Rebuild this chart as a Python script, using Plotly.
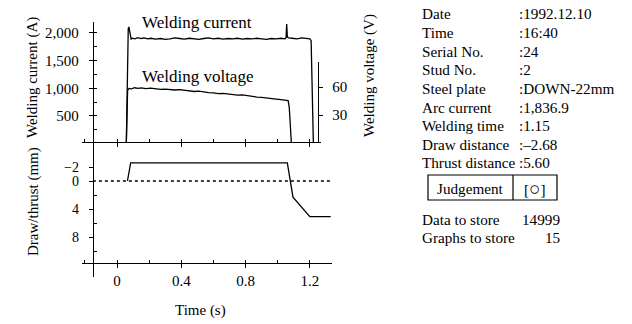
import plotly.graph_objects as go

W, H = 632, 324
def px(x): return x / W
def py(y): return 1 - y / H

# ---------------- data ----------------
cur_t = [0.058, 0.062, 0.066, 0.070, 0.074, 0.078, 0.082, 0.088, 0.095, 0.11, 0.13, 0.15, 0.17, 0.19,
         0.21, 0.24, 0.27, 0.30, 0.33, 0.36, 0.39, 0.42, 0.45, 0.48, 0.51, 0.54, 0.57, 0.60,
         0.63, 0.66, 0.69, 0.72, 0.75, 0.78, 0.81, 0.84, 0.87, 0.90, 0.93, 0.96, 0.99, 1.02,
         1.045, 1.052, 1.056, 1.060, 1.068, 1.09, 1.12, 1.15, 1.18, 1.200, 1.208, 1.222]
cur_a = [0, 900, 1950, 2080, 2110, 2060, 1950, 1890, 1905, 1895, 1915, 1900, 1910, 1895,
         1905, 1890, 1900, 1885, 1895, 1910, 1900, 1890, 1905, 1895, 1885, 1900, 1910, 1895,
         1905, 1890, 1900, 1895, 1905, 1890, 1900, 1895, 1905, 1895, 1885, 1900, 1895, 1905,
         1895, 1915, 2160, 1930, 1910, 1905, 1895, 1910, 1900, 1895, 1860, 0]

vol_t = [0.058, 0.062, 0.066, 0.075, 0.09, 0.11, 0.13, 0.15, 0.18, 0.21, 0.24, 0.27, 0.30,
         0.33, 0.36, 0.39, 0.42, 0.45, 0.48, 0.51, 0.54, 0.57, 0.60, 0.63, 0.66, 0.69,
         0.72, 0.75, 0.78, 0.81, 0.84, 0.87, 0.90, 0.93, 0.96, 0.99, 1.02, 1.045, 1.065,
         1.072, 1.085]
vol_v = [0, 30, 56.5, 58.5, 58.0, 59.2, 58.6, 59.0, 58.3, 58.8, 58.0, 57.5, 57.8,
         57.0, 56.8, 57.2, 56.3, 56.0, 55.2, 55.6, 54.6, 54.0, 53.8, 52.8, 53.2, 52.5,
         51.8, 51.2, 51.5, 50.5, 49.8, 49.2, 48.8, 48.0, 47.6, 47.0, 46.4, 46.0, 45.5,
         38, 0]

dt_t = [0.065, 0.085, 1.060, 1.080, 1.095, 1.200, 1.330]
dt_mm = [0, -2.6, -2.6, 0, 2.3, 5.1, 5.1]

ref_t = [-0.15, 1.33]
ref_mm = [0, 0]

cur_ticks = [500, 1000, 1500, 2000]
cur_labels = ["500", "1,000", "1,500", "2,000"]
vol_ticks = [30, 60]
vol_labels = ["30", "60"]
dt_ticks = [-2, 0, 4, 8]
dt_labels = ["\u22122", "0", "4", "8"]
time_ticks = [0, 0.4, 0.8, 1.2]
time_labels = ["0", "0.4", "0.8", "1.2"]

info_labels = ["Date", "Time", "Serial No.", "Stud No.", "Steel plate", "Arc current",
               "Welding time", "Draw distance", "Thrust distance"]
info_values = [":1992.12.10", ":16:40", ":24", ":2", ":DOWN-22mm", ":1,836.9",
               ":1.15", ":\u20132.68", ":5.60"]
store_labels = ["Data to store", "Graphs to store"]
store_values = ["14999", "15"]

# ---------------- style ----------------
FONT = "Liberation Serif, Times New Roman, serif"
FS = 15
TS = 15.2
LW = 1.3

fig = go.Figure()
fig.add_trace(go.Scatter(x=cur_t, y=cur_a, xaxis="x", yaxis="y", mode="lines",
                         line=dict(color="black", width=LW), showlegend=False))
fig.add_trace(go.Scatter(x=vol_t, y=vol_v, xaxis="x", yaxis="y3", mode="lines",
                         line=dict(color="black", width=LW), showlegend=False))
fig.add_trace(go.Scatter(x=ref_t, y=ref_mm, xaxis="x2", yaxis="y2", mode="lines",
                         line=dict(color="black", width=1.4, dash="dot"), showlegend=False))
fig.add_trace(go.Scatter(x=dt_t, y=dt_mm, xaxis="x2", yaxis="y2", mode="lines",
                         line=dict(color="black", width=LW), showlegend=False))

# scale: 0.4 s = 64.3 px ; t=0 at x=117
def tval(x): return (x - 117) / 160.7

axis_common = dict(showgrid=False, zeroline=False, showline=True, linecolor="black",
                   linewidth=1.4, ticks="outside", tickcolor="black", ticklen=4, tickwidth=1.3,
                   tickfont=dict(family=FONT, size=FS, color="black"))

fig.update_layout(
    width=W, height=H, margin=dict(l=0, r=0, t=0, b=0),
    paper_bgcolor="white", plot_bgcolor="rgba(0,0,0,0)",
    xaxis=dict(domain=[px(82), px(321)], range=[tval(82), tval(321)], anchor="y",
               tickvals=time_ticks, showticklabels=False,
               minor=dict(dtick=0.2, tick0=0, ticks="inside", ticklen=3, tickcolor="black"),
               **axis_common),
    yaxis=dict(domain=[py(142), py(22)], range=[30, 30 + 120 * 18.07], anchor="free",
               position=px(93), tickvals=cur_ticks, ticktext=cur_labels,
               ticklabelstandoff=7,
               minor=dict(dtick=250, ticks="inside", ticklen=3, tickcolor="black"),
               **axis_common),
    yaxis3=dict(domain=[py(143), py(62)], range=[0, 81 * 1.0714], anchor="free",
                position=px(318), side="right", tickvals=vol_ticks, ticktext=vol_labels,
                ticklabelstandoff=6, **axis_common),
    xaxis2=dict(domain=[px(82), px(332)], range=[tval(82), tval(332)], anchor="free",
                position=py(263), tickvals=time_ticks, ticktext=time_labels,
                ticklabelstandoff=0,
                minor=dict(dtick=0.2, tick0=0, ticks="inside", ticklen=3, tickcolor="black"),
                **axis_common),
    yaxis2=dict(domain=[py(277), py(142)], range=[(277 - 181) / 7, (142 - 181) / 7],
                anchor="free", position=px(93), tickvals=dt_ticks, ticktext=dt_labels,
                ticklabelstandoff=7,
                minor=dict(tickvals=[2, 6, 10], ticks="inside", ticklen=3, tickcolor="black"),
                **axis_common),
)
fig.update_layout(yaxis2_tickfont_size=14)

ann = []
def txt(x, y, s, xanchor="left", angle=0, size=FS):
    ann.append(dict(x=px(x), y=py(y), xref="paper", yref="paper", text=s, showarrow=False,
                    xanchor=xanchor, yanchor="middle", textangle=angle,
                    font=dict(family=FONT, size=size, color="black")))

txt(140, 23, "Welding current", size=17)
txt(140, 77, "Welding voltage", size=17)
txt(33, 78, "Welding current (A)", xanchor="center", angle=-90)
txt(33, 202, "Draw/thrust (mm)", xanchor="center", angle=-90)
txt(370, 76, "Welding voltage (V)", xanchor="center", angle=-90)
txt(200, 310, "Time (s)", xanchor="center")

row_y0, row_dy = 14, 18.6
for i, (lab, val) in enumerate(zip(info_labels, info_values)):
    y = row_y0 + i * row_dy
    txt(420, y, lab, size=TS)
    txt(517, y, val, size=TS)

# judgement box
fig.add_shape(type="rect", xref="paper", yref="paper", x0=px(428), x1=px(557),
              y0=py(200), y1=py(175), line=dict(color="black", width=1.2))
fig.add_shape(type="line", xref="paper", yref="paper", x0=px(513), x1=px(513),
              y0=py(200), y1=py(175), line=dict(color="black", width=1.2))
txt(470, 188, "Judgement", xanchor="center", size=TS)
txt(535, 188, "[<span style='font-size:19px'>\u25cb</span>]", xanchor="center", size=TS)

txt(420, 219, store_labels[0], size=TS)
txt(541, 219, store_values[0], xanchor="center", size=TS)
txt(420, 237, store_labels[1], size=TS)
txt(552, 237, store_values[1], xanchor="center", size=TS)

fig.update_layout(annotations=ann)
fig.write_html("out.html", config={"displayModeBar": False},
               post_script="document.body.style.margin='0';")
